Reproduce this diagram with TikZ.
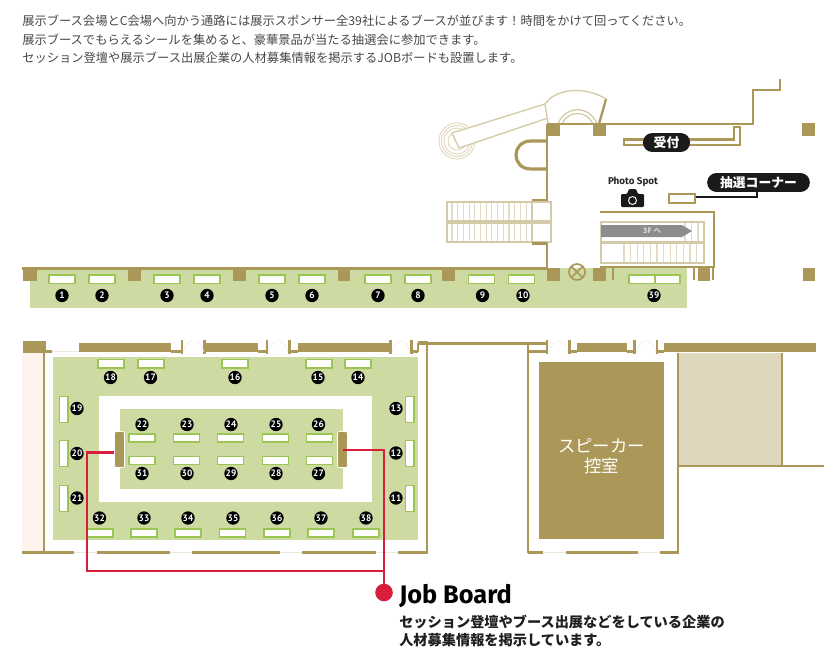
\documentclass[tikz,border=0pt]{standalone}
\usepackage{fontspec}
\setmainfont{Noto Sans CJK JP}
\newfontfamily\numfont{PT Sans}
\newfontfamily\jobfont{Fira Sans}
\definecolor{wallc}{HTML}{AB9858}
\definecolor{greenc}{HTML}{CDDBA3}
\definecolor{boothc}{HTML}{9CC653}
\definecolor{stairc}{HTML}{E3DBC3}
\definecolor{redc}{HTML}{D91E3C}
\definecolor{pinkc}{HTML}{FDF3EC}
\definecolor{beigec}{HTML}{DED6BD}
\definecolor{blackc}{HTML}{1A1A1A}
\definecolor{doorc}{HTML}{EEEADB}
\definecolor{greyc}{HTML}{8C8C8C}
\tikzset{
  wall/.style={draw=wallc,line width=2.4pt},
  thinwall/.style={draw=wallc,line width=1.7pt},
  pillar/.style={fill=wallc},
  booth/.style={draw=boothc,fill=white,line width=1pt},
  stairline/.style={draw=stairc,line width=.8pt},
  stairbox/.style={draw=stairc!75!wallc,line width=1pt},
  door/.style={draw=doorc,line width=.4pt},
  num/.style={circle,fill=black,text=white,minimum size=10pt,inner sep=0pt,font=\numfont\bfseries\fontsize{7}{7}\selectfont},
  pilllabel/.style={rounded corners=7pt,fill=blackc,text=white,inner sep=0pt,font=\bfseries\fontsize{9.6}{11}\selectfont},
  intro/.style={anchor=base west,inner sep=0pt,text=black!72,font=\fontsize{9.2}{11}\selectfont},
  jobtext/.style={anchor=base west,inner sep=0pt,text=black!88,font=\bfseries\fontsize{10.65}{12}\selectfont},
  redline/.style={draw=redc,line width=2pt}
}
\begin{document}
\begin{tikzpicture}[x=0.75pt,y=-0.75pt]
\useasboundingbox (0,0) rectangle (828,654);
% intro text
\node[intro] (t1) at (22,25) {展示ブース会場とC会場へ向かう通路には展示スポンサー全39社によるブースが並びます！時間をかけて回ってください。};
\node[intro] (t2) at (22,44) {展示ブースでもらえるシールを集めると、豪華景品が当たる抽選会に参加できます。};
\node[intro] (t3) at (22,62) {セッション登壇や展示ブース出展企業の人材募集情報を掲示するJOBボードも設置します。};
% floor fills
\fill[greenc] (30,268) rectangle (687,307.5);
\fill[pinkc] (22,353) rectangle (44,552);
\fill[greenc] (53,357) rectangle (418,540);
\fill[white] (99,396) rectangle (372,502);
\fill[greenc] (120,409) rectangle (343,489);
\fill[beigec] (678,353) rectangle (782,466);
% escalator at top
\foreach \r in {18,15.5,13,9}
  \draw[stairline] (457,141) circle (\r);
\fill[white] (452,133) -- (545,104) -- (548,118) -- (459,148) -- cycle;
\draw[stairbox] (452,133) -- (545,104) (459,148) -- (548,118) (452,133) -- (459,148);
\draw[stairbox] (545,104) .. controls (556,88) and (585,86) .. (606,99);
\draw[stairbox] (545,104) -- (548,123);
\draw[thinwall] (606,99) -- (599,124);
\draw[stairbox] (558,124) .. controls (565,105) and (590,105) .. (597,124);
\draw[stairbox] (562,124) .. controls (568,110) and (587,110) .. (593,124);
% upper walls
\draw[thinwall] (547,124) -- (753,124) -- (753,90) -- (780,90) -- (780,79);
\draw[thinwall] (547,124) -- (547,268);
\draw[wall] (22,268.5) -- (547,268.5);
\draw[wall] (547,141) -- (531,141) .. controls (511,141) and (511,169) .. (531,169) -- (547,169);
\foreach \a/\b/\c/\d in {547/123/560/136, 593/123/606/136, 802/123/815/136,
  23/268/37/281, 128/268/141/281, 233/268/246/281, 338/268/350/281, 442/268/455/281,
  547/268/560/281, 593/268/606/281, 698/268/710/281, 803/268/815/281}
  \fill[pillar] (\a,\b) rectangle (\c,\d);
\draw[thinwall] (612.7,268) -- (612.7,280) (694,268) -- (694,280) (713,268) -- (713,280);
% reception desk
\draw[thinwall] (624,139.5) -- (734,139.5) -- (734,127) -- (740,127) -- (740,145) -- (624,145) -- cycle;
\node[pilllabel,minimum width=35.3pt,minimum height=14.2pt] (uketsuke) at (666.5,142.5) {受付};
% left stairs
\fill[white] (447,202) rectangle (551,242);
\foreach \x in {452,457.7,...,532} \draw[stairline] (\x,202) -- (\x,221) (\x,223) -- (\x,242);
\draw[stairbox] (447,202) rectangle (551,221);
\draw[stairbox] (447,223) rectangle (551,242);
\draw[stairbox] (532,202) -- (532,242);
\draw[thinwall] (532,200) -- (547,200) (532,243.5) -- (547,243.5);
% photo spot
\node[anchor=center,inner sep=0pt,text=black!85,font=\jobfont\bfseries\fontsize{7.4}{8}\selectfont] (photo) at (633,182) {Photo Spot};
\fill[blackc,rounded corners=.8pt] (621,194) -- (627,194) -- (629,189) -- (636,189) -- (638,194) -- (644,194) -- (644,207) -- (621,207) -- cycle;
\draw[white,line width=.7pt] (632.5,200.5) circle (4);
% lottery
\node[draw=wallc,line width=1.4pt,fill=white,minimum width=19.5pt,minimum height=6.8pt,inner sep=0pt] (lotbox) at (682,198.5) {};
\node[pilllabel,minimum width=77pt,minimum height=14.2pt] (lottery) at (758.5,182.5) {抽選コーナー};
\draw[draw=blackc,line width=.8pt] (lotbox.east |- 0,197) -- (757,197) -- (757,192);
% 3F stairs
\draw[thinwall] (600,212) -- (714,212) -- (714,267) -- (600,267);
\foreach \x in {624,630.6,...,704} \draw[stairline] (\x,243) -- (\x,263);
\foreach \x in {685,691.6,698} \draw[stairline] (\x,222) -- (\x,242);
\draw[stairbox] (601,222) rectangle (704,242);
\draw[stairbox] (601,243) rectangle (704,263);
\fill[greyc] (601,225) -- (682,225) -- (692,231) -- (682,237) -- (601,237) -- cycle;
\node[inner sep=0pt,text=white!85!black,font=\bfseries\fontsize{5.6}{7}\selectfont] (up3ft) at (652,231) {3F へ};
% X mark
\draw[draw=wallc,line width=1.3pt] (577,272) circle (8);
\draw[draw=wallc,line width=1.3pt] (571.4,266.4) -- (582.6,277.6) (571.4,277.6) -- (582.6,266.4);
% corridor booths
\foreach \a in {49,89,154,194,259,299,365,405,468.5,508.5}
  \draw[booth] (\a,275) rectangle ++(26,8.5);
\draw[booth] (629,275) rectangle (655,283.5);
\draw[booth] (655,275) rectangle (680,283.5);
% corridor numbers
\foreach \n/\a in {1/62,2/102,3/167,4/207,5/272,6/312,7/378,8/418,9/482.5,10/523,39/654}
  \node[num] (n\n) at (\a,295.5) {\n};
% hall walls
\fill[pillar] (23,341) rectangle (46,353);
\draw[thinwall] (44,353) -- (44,552);
\draw[thinwall] (46,351.5) -- (52,351.5);
\foreach \a/\c in {79/171, 206/258, 298/390, 577/627, 664/816}
  \fill[pillar] (\a,342.5) rectangle (\c,352);
\fill[pillar] (418,341) rectangle (428,344.5);
\draw[thinwall] (171,351.5) -- (182,351.5) (258,351.5) -- (267,351.5) (289,351.5) -- (298,351.5)
  (411,351.5) -- (418,351.5) (418,343) -- (418,351.5)
  (418,343.5) -- (546,343.5) (528,351.5) -- (547,351.5) (570,351.5) -- (577,351.5)
  (627,351.5) -- (634,351.5) (657,351.5) -- (664,351.5) (528,343) -- (528,351.5);
\foreach \a in {182,204.5,267,289.5,390.5,411.5,547,569.5,634.5,657}
  \fill[pillar] (\a-1.4,340) rectangle (\a+1.4,354);
\foreach \a/\c in {183/204,268/288,392/410,549/568,636/656} {
  \draw[door] (\a,352) .. controls (\a+2,345) and (\a+6,341) .. (\a+9,341);
  \draw[door] (\c,352) .. controls (\c-2,345) and (\c-6,341) .. (\c-9,341);
}
\draw[thinwall] (427,344) -- (427,553);
\draw[thinwall] (528,344) -- (528,553);
\foreach \a/\c in {22/74,97/170,192/280,302/376,398/428,528/543,566/638,660/679}
  \draw[thinwall] (\a,552.5) -- (\c,552.5);
\draw[thinwall] (678,353) -- (678,553);
\draw[thinwall] (782,353) -- (782,466);
\draw[thinwall] (678,466) -- (824,466);
\draw[door,line width=.8pt] (52,351.5) -- (79,351.5) (543,552.5) -- (566,552.5) (638,552.5) -- (660,552.5)
  (74,552.5) -- (97,552.5) (170,552.5) -- (192,552.5) (280,552.5) -- (302,552.5) (376,552.5) -- (398,552.5);
% speaker room
\node[fill=wallc,minimum width=93.75pt,minimum height=132.75pt,inner sep=0pt] (speaker) at (601.5,450.5) {};
\node[inner sep=0pt,text=white,align=center,font=\fontsize{13}{15}\selectfont] (speakerlabel) at (601.5,456.5) {スピーカー\\控室};
% hall booths
\foreach \a in {98,138,222,306,345}
  \draw[booth] (\a,359.5) rectangle ++(26,8.5);
\foreach \a in {59.5,405.5} {
  \draw[booth] (\a,396.5) rectangle ++(8.5,26);
  \draw[booth] (\a,440.5) rectangle ++(8.5,26);
  \draw[booth] (\a,485.5) rectangle ++(8.5,26);
}
\foreach \a in {129,173.5,217.5,262.5,306.5} {
  \draw[booth] (\a,434) rectangle ++(26,8);
  \draw[booth] (\a,456.5) rectangle ++(26,8);
}
\foreach \a in {87,131,175,219.5,264,308,353}
  \draw[booth] (\a,529) rectangle ++(26,8);
% boards
\node[fill=wallc,draw=white,line width=.5pt,rounded corners=1.5pt,minimum width=7.5pt,minimum height=27pt,inner sep=0pt] (boardL) at (119.5,449.5) {};
\node[fill=wallc,draw=white,line width=.5pt,rounded corners=1.5pt,minimum width=7.5pt,minimum height=27pt,inner sep=0pt] (boardR) at (342.5,449.5) {};
% red connectors
\node[circle,fill=redc,minimum size=13.2pt,inner sep=0pt] (jobdot) at (384,592.5) {};
\coordinate (junction) at (384,571);
\draw[redline] (boardR.center |- 0,450) -- (384,450) -- (jobdot.center);
\draw[redline] (boardL.west |- 0,452.5) -- (87,452.5) -- (87,571) -- (junction);
% hall numbers
\foreach \n/\a/\b in {18/110.5/377.5,17/150.5/377.5,16/235/377.5,15/318/377.5,14/358/377.5,
  19/77/408.5,20/77/453.5,21/77/498,13/396/408.5,12/396/453,11/396/498,
  22/142/424.5,23/187/424.5,24/231/424.5,25/276/424.5,26/318.5/424.5,
  31/142/473.5,30/187/473.5,29/231/473.5,28/276/473.5,27/318.5/473.5,
  32/99.5/518,33/144/518,34/188/518,35/233/518,36/277/518,37/321/518,38/366/518}
  \node[num] (n\n) at (\a,\b) {\n};
% job board text
\node[anchor=base west,inner sep=0pt,text=black,font=\jobfont\bfseries\fontsize{19}{20}\selectfont] (jobtitle) at (399,603) {Job Board};
\node[jobtext] (j1) at (399,627) {セッション登壇やブース出展などをしている企業の};
\node[jobtext] (j2) at (399,645.5) {人材募集情報を掲示しています。};
\end{tikzpicture}
\end{document}
